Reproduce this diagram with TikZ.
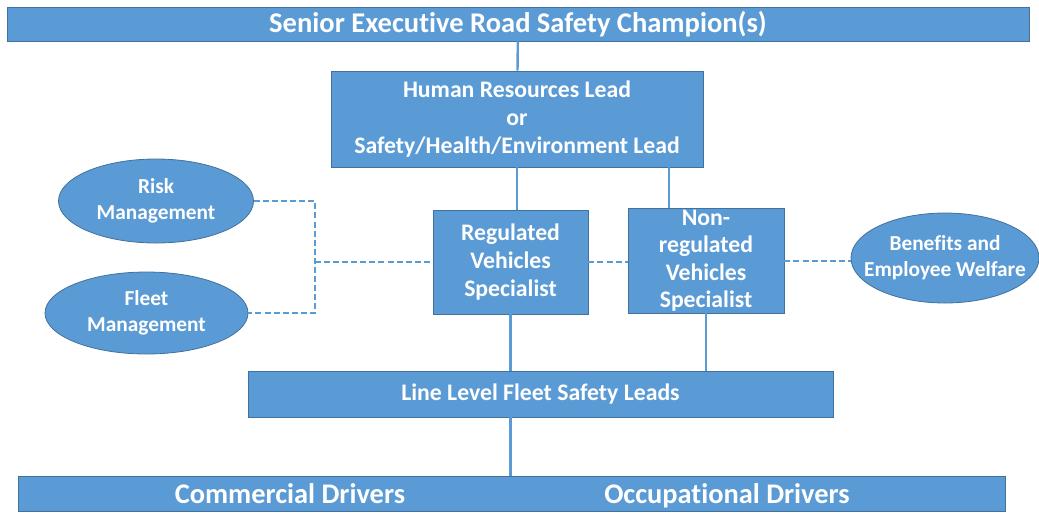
\documentclass[tikz,border=0pt]{standalone}
\usepackage{fontspec}
\setmainfont{Carlito}[RawFeature={-liga;-clig;-calt;-dlig}]
\usetikzlibrary{shapes.geometric}

\definecolor{boxblue}{RGB}{91,155,213}
\definecolor{edgeblue}{RGB}{65,113,156}

\tikzset{
  block/.style={rectangle, draw=edgeblue, line width=0.6pt, fill=boxblue, inner sep=0pt,
    text=white, align=center, font=\bfseries\fontsize{17.8}{21}\selectfont},
  bubble/.style={ellipse, draw=edgeblue, line width=0.6pt, fill=boxblue, inner sep=0pt},
  bubbletext/.style={inner sep=0pt, text=white, align=center, font=\bfseries\fontsize{16}{19.5}\selectfont},
  drivertext/.style={inner sep=0pt, anchor=base, text=white, font=\bfseries\fontsize{21.3}{24}\selectfont},
  link/.style={draw=boxblue, line width=1.8pt},
  dashlink/.style={draw=boxblue, line width=1.5pt, dash pattern={on 4.5pt off 2.3pt}},
}

\begin{document}
\begin{tikzpicture}[x=0.75pt,y=0.75pt,yscale=-1,xscale=1]
\useasboundingbox (0,0) rectangle (1039,512);

%Shape: Rectangle [id:champion]
\node (champion) [block, minimum width=766.5pt, minimum height=25.5pt, font=\bfseries\fontsize{21.4}{24}\selectfont] at (518,24) {Senior Executive Road Safety Champion(s)};
%Shape: Rectangle [id:hrlead]
\node (hrlead) [block, minimum width=279pt, minimum height=72pt] at (517,119) {Human Resources Lead\\or\\Safety/Health/Environment Lead};
%Shape: Rectangle [id:regspec]
\node (regspec) [block, minimum width=116.25pt, minimum height=78pt] at (510.5,262) {Regulated\\Vehicles\\Specialist};
%Shape: Rectangle [id:nonregspec]
\node (nonregspec) [block, minimum width=117pt, minimum height=78.75pt, font=\bfseries\fontsize{17.8}{20.6}\selectfont] at (706,260.5) {Non-\\regulated\\Vehicles\\Specialist};
%Shape: Rectangle [id:linelead]
\node (linelead) [block, minimum width=438.75pt, minimum height=34.5pt] at (540.5,394) {Line Level Fleet Safety Leads};
%Shape: Rectangle [id:drivers]
\node (drivers) [block, minimum width=740.25pt, minimum height=26.25pt] at (511.5,493.5) {};

%Shape: Ellipse [id:risk]
\node (risk) [bubble, minimum width=146.25pt, minimum height=63pt] at (156,201) {};
%Shape: Ellipse [id:fleet]
\node (fleet) [bubble, minimum width=152.25pt, minimum height=61.5pt] at (146.5,313) {};
%Shape: Ellipse [id:benefits]
\node (benefits) [bubble, minimum width=141pt, minimum height=67.5pt] at (945,258) {};

% Text Node
\node (risklabel) [bubbletext] at (risk) {Risk\\Management};
% Text Node
\node (fleetlabel) [bubbletext] at (fleet) {Fleet\\Management};
% Text Node
\node (benefitslabel) [bubbletext] at (benefits) {Benefits and\\Employee Welfare};
% Text Node
\node (commercial) [drivertext] at (290,503) {Commercial Drivers};
% Text Node
\node (occupational) [drivertext] at (727,503) {Occupational Drivers};

\coordinate (hrtap) at ([xshift=114pt]hrlead.south);
\coordinate (junction) at (315,262);

%Straight Lines
\draw [link] (champion) -- (hrlead);
\draw [link] (hrlead.south) -- (hrlead.south |- regspec.north);
\draw [link] (hrtap) -- (hrtap |- nonregspec.north);
\draw [link] (regspec.south) -- (regspec.south |- linelead.north);
\draw [link] (nonregspec.south) -- (nonregspec.south |- linelead.north);
\draw [link] (regspec.south |- linelead.south) -- (regspec.south |- drivers.north);

%Dashed Lines
\draw [dashlink] (risk.east) -| (junction) |- (fleet.east);
\draw [dashlink] (junction) -- (regspec.west);
\draw [dashlink] (regspec.east) -- (regspec.east -| nonregspec.west);
\draw [dashlink] (nonregspec.east) -- (nonregspec.east -| benefits.west);

\end{tikzpicture}
\end{document}
